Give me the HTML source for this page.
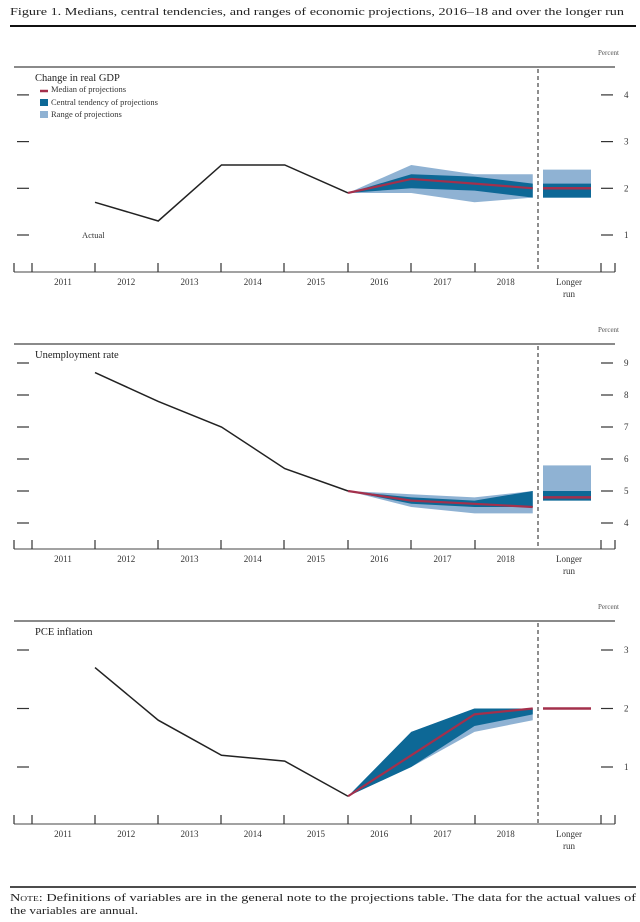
<!DOCTYPE html>
<html><head><meta charset="utf-8"><style>
body{margin:0;background:#fff;width:640px;height:922px;overflow:hidden;font-family:"Liberation Serif",serif}
svg{position:absolute;left:0;top:0}
</style></head><body>
<svg id="c" width="640" height="922">
<text x="10" y="15" font-size="10.5" fill="#222" textLength="614" lengthAdjust="spacingAndGlyphs">Figure 1.  Medians, central tendencies, and ranges of economic projections, 2016–18 and over the longer run</text>
<line x1="10" y1="26" x2="636" y2="26" stroke="#111" stroke-width="2"/>
<line x1="10" y1="887" x2="636" y2="887" stroke="#111" stroke-width="1.5"/>
<text x="10" y="901" font-size="10.5" fill="#222" textLength="626" lengthAdjust="spacingAndGlyphs"><tspan font-variant="small-caps">Note:</tspan> Definitions of variables are in the general note to the projections table.  The data for the actual values of</text>
<text x="10" y="914" font-size="10.5" fill="#222" textLength="128" lengthAdjust="spacingAndGlyphs">the variables are annual.</text>
</svg>
<script>
const years=["2011","2012","2013","2014","2015","2016","2017","2018"];
const gdpActual=[1.7,1.3,2.5,2.5,1.9];
const gdpMedian=[2.2,2.1,2.0];const gdpCtLo=[2.0,1.95,1.8];const gdpCtHi=[2.3,2.25,2.1];
const gdpRgLo=[1.9,1.7,1.8];const gdpRgHi=[2.5,2.3,2.3];
const gdpLR=[2.0,1.8,2.1,1.8,2.4];
const gdpTicks=[1,2,3,4];
const urActual=[8.7,7.8,7.0,5.7,5.0];
const urMedian=[4.7,4.6,4.5];const urCtLo=[4.6,4.5,4.5];const urCtHi=[4.8,4.7,5.0];
const urRgLo=[4.5,4.3,4.3];const urRgHi=[4.9,4.8,5.0];
const urLR=[4.8,4.7,5.0,4.7,5.8];
const urTicks=[4,5,6,7,8,9];
const pceActual=[2.7,1.8,1.2,1.1,0.5];
const pceMedian=[1.2,1.9,2.0];const pceCtLo=[1.0,1.7,1.9];const pceCtHi=[1.6,2.0,2.0];
const pceRgLo=[1.0,1.6,1.8];const pceRgHi=[1.6,2.0,2.0];
const pceLR=[2.0,2.0,2.0,2.0,2.0];
const pceTicks=[1,2,3];
const NS='http://www.w3.org/2000/svg';const svg=document.getElementById('c');
function mk(t,a,p){const e=document.createElementNS(NS,t);for(const k in a)e.setAttribute(k,a[k]);(p||svg).appendChild(e);return e;}
function xv(i){return 95+63.25*i;}
function panel(key,title,top,axisY,v0,y0,ppu,actual,med,ctLo,ctHi,rgLo,rgHi,lr,ticks,legend){
 const g=mk('g',{});
 
 
 const y=v=>y0-(v-v0)*ppu;
 let t=mk('text',{x:598,y:top-12,'font-size':7,fill:'#555'},g);t.textContent='Percent';
 
 mk('line',{x1:14,y1:top,x2:615,y2:top,stroke:'#444','stroke-width':1.2},g);
 mk('line',{x1:14,y1:axisY,x2:615,y2:axisY,stroke:'#444','stroke-width':1},g);
 [14,32,95,158,221,284,348,411,475,601,615].forEach(x=>mk('line',{x1:x,y1:axisY,x2:x,y2:axisY-9,stroke:'#333','stroke-width':1.2},g));
 mk('line',{x1:538,y1:top+2,x2:538,y2:axisY,stroke:'#444','stroke-width':1.2,'stroke-dasharray':'4,3'},g);
 ticks.forEach(v=>{mk('line',{x1:17,y1:y(v),x2:29,y2:y(v),stroke:'#333','stroke-width':1.2},g);
  mk('line',{x1:601,y1:y(v),x2:613,y2:y(v),stroke:'#333','stroke-width':1.2},g);
  const l=mk('text',{x:624,y:y(v)+3,'font-size':9,fill:'#333'},g);l.textContent=v;
  });
 years.forEach((yr,i)=>{const l=mk('text',{x:63+63.25*i,y:axisY+13,'font-size':9,fill:'#333','text-anchor':'middle'},g);l.textContent=yr;
  });
 let l1=mk('text',{x:569,y:axisY+13,'font-size':9,fill:'#333','text-anchor':'middle'},g);l1.textContent='Longer';
 let l2=mk('text',{x:569,y:axisY+25,'font-size':9,fill:'#333','text-anchor':'middle'},g);l2.textContent='run';
 let tt=mk('text',{x:35,y:top+14,'font-size':10.5,fill:'#222'},g);tt.textContent=title;
 
 const px=[xv(4),xv(5),xv(6),xv(7)-5];
 const poly=(lo,hi,fill,name)=>{const s=actual[4];const up=[[px[0],y(s)]].concat(hi.map((v,i)=>[px[i+1],y(v)]));
  const dn=lo.map((v,i)=>[px[i+1],y(v)]).reverse().concat([[px[0],y(s)]]);
  const p=mk('polygon',{points:up.concat(dn).map(q=>q.join(',')).join(' '),fill:fill},g);
  };
 poly(rgLo,rgHi,'#8fb2d3',key+'-range-band');
 poly(ctLo,ctHi,'#0d6896',key+'-central-tendency-band');
 const r=mk('rect',{x:543,y:y(lr[4]),width:48,height:y(lr[3])-y(lr[4]),fill:'#8fb2d3'},g);
 
 const c=mk('rect',{x:543,y:y(lr[2]),width:48,height:Math.max(y(lr[1])-y(lr[2]),0),fill:'#0d6896'},g);
 
 const m=mk('line',{x1:543,x2:591,y1:y(lr[0]),y2:y(lr[0]),stroke:'#a3304c','stroke-width':2.5},g);
 
 const a=mk('polyline',{points:actual.map((v,i)=>xv(i)+','+y(v)).join(' '),fill:'none',stroke:'#222','stroke-width':1.5},g);
 
 const md=mk('polyline',{points:[[px[0],y(actual[4])]].concat(med.map((v,i)=>[px[i+1],y(v)])).map(q=>q.join(',')).join(' '),fill:'none',stroke:'#a3304c','stroke-width':2.2},g);
 
 if(legend){
  mk('line',{x1:40,x2:48,y1:top+24,y2:top+24,stroke:'#a3304c','stroke-width':2.5},g);
  mk('rect',{x:40,y:top+32,width:8,height:7,fill:'#0d6896'},g);
  mk('rect',{x:40,y:top+44,width:8,height:7,fill:'#8fb2d3'},g);
  [['Median of projections',top+25],['Central tendency of projections',top+38],['Range of projections',top+50]].forEach(q=>{
   const e=mk('text',{x:51,y:q[1],'font-size':8.5,fill:'#333'},g);e.textContent=q[0];
   });
  const ac=mk('text',{x:82,y:y(1)+3,'font-size':8.5,fill:'#333'},g);ac.textContent='Actual';
  
 }
}
panel('gdp','Change in real GDP',67,272,1,235,46.7,gdpActual,gdpMedian,gdpCtLo,gdpCtHi,gdpRgLo,gdpRgHi,gdpLR,gdpTicks,true);
panel('unemployment','Unemployment rate',344,549,4,523,32,urActual,urMedian,urCtLo,urCtHi,urRgLo,urRgHi,urLR,urTicks,false);
panel('pce','PCE inflation',621,824,1,767,58.5,pceActual,pceMedian,pceCtLo,pceCtHi,pceRgLo,pceRgHi,pceLR,pceTicks,false);
</script>
</body></html>
